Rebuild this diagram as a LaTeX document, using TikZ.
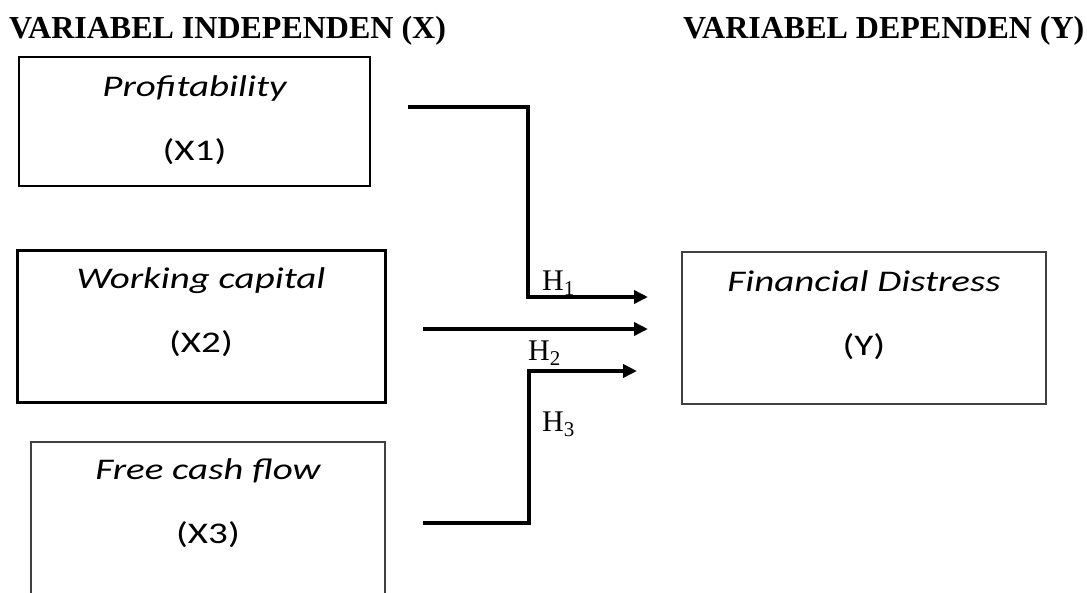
\documentclass[tikz,border=0pt]{standalone}
\usepackage{fontspec}
\setmainfont{Liberation Serif}
\newfontfamily\boxfont[FakeStretch=1.3]{Carlito}
\usetikzlibrary{arrows.meta}
\usetikzlibrary{positioning}
\tikzset{
  varbox/.style={draw, rectangle, inner sep=0pt},
  vartext/.style={align=center, inner sep=0pt,
      font=\boxfont\fontsize{30pt}{64pt}\selectfont},
  heading/.style={anchor=base west, inner sep=0pt,
      font=\fontsize{32pt}{38pt}\selectfont\bfseries},
  hlabel/.style={anchor=base west, inner sep=0pt,
      font=\fontsize{30pt}{36pt}\selectfont},
  path/.style={line width=3.5pt, -{Triangle[length=14pt,width=13pt]}},
}

\begin{document}
\begin{tikzpicture}[x=1pt, y=-1pt]
      \useasboundingbox (0,0) rectangle (1087,592);

      \node [heading] (indep) at (9,38) {VARIABEL INDEPENDEN (X)};
      \node [heading] (dep) at (683,38) {VARIABEL DEPENDEN (Y)};

      % the three independent variables
      \node [varbox, line width=1.3pt, minimum width=351pt, minimum height=129pt]
      (prof) at (194.5,121.5) {};
      \node [vartext, below=19pt of prof.north] (prof-txt)
      {\itshape Profitability\\(X1)};

      \node [varbox, line width=3pt, minimum width=368pt, minimum height=152pt]
      (wcap) at (201,326) {};
      \node [vartext, below=19pt of wcap.north] (wcap-txt)
      {\itshape Working capital\\(X2)};

      \node [varbox, draw=black!75, line width=1.6pt, minimum width=354pt, minimum height=180pt]
      (fcf) at (208,532) {};
      \node [vartext, below=17pt of fcf.north] (fcf-txt)
      {\itshape Free cash flow\\(X3)};

      % dependent variable
      \node [varbox, draw=black!75, line width=1.6pt, minimum width=364pt, minimum height=152pt]
      (fdist) at (864,328) {};
      \node [vartext, below=19pt of fdist.north] (fdist-txt)
      {\itshape Financial Distress\\(Y)};

      % hypotheses
      \coordinate (h1s) at (408,107);
      \coordinate (h1e) at (648,297);
      \coordinate (h2s) at (423,329);
      \coordinate (h2e) at (648,329);
      \coordinate (h3s) at (423,523);
      \coordinate (h3e) at (637,371);

      \draw [path] (h1s) -- ++(120,0) |- (h1e);
      \draw [path] (h2s) -- (h2e);
      \draw [path] (h3s) -- ++(106,0) |- (h3e);

      \node [hlabel] (h1) at (542,290) {H\textsubscript{1}};
      \node [hlabel] (h2) at (528,360) {H\textsubscript{2}};
      \node [hlabel] (h3) at (542,431) {H\textsubscript{3}};
    \end{tikzpicture}
\end{document}
